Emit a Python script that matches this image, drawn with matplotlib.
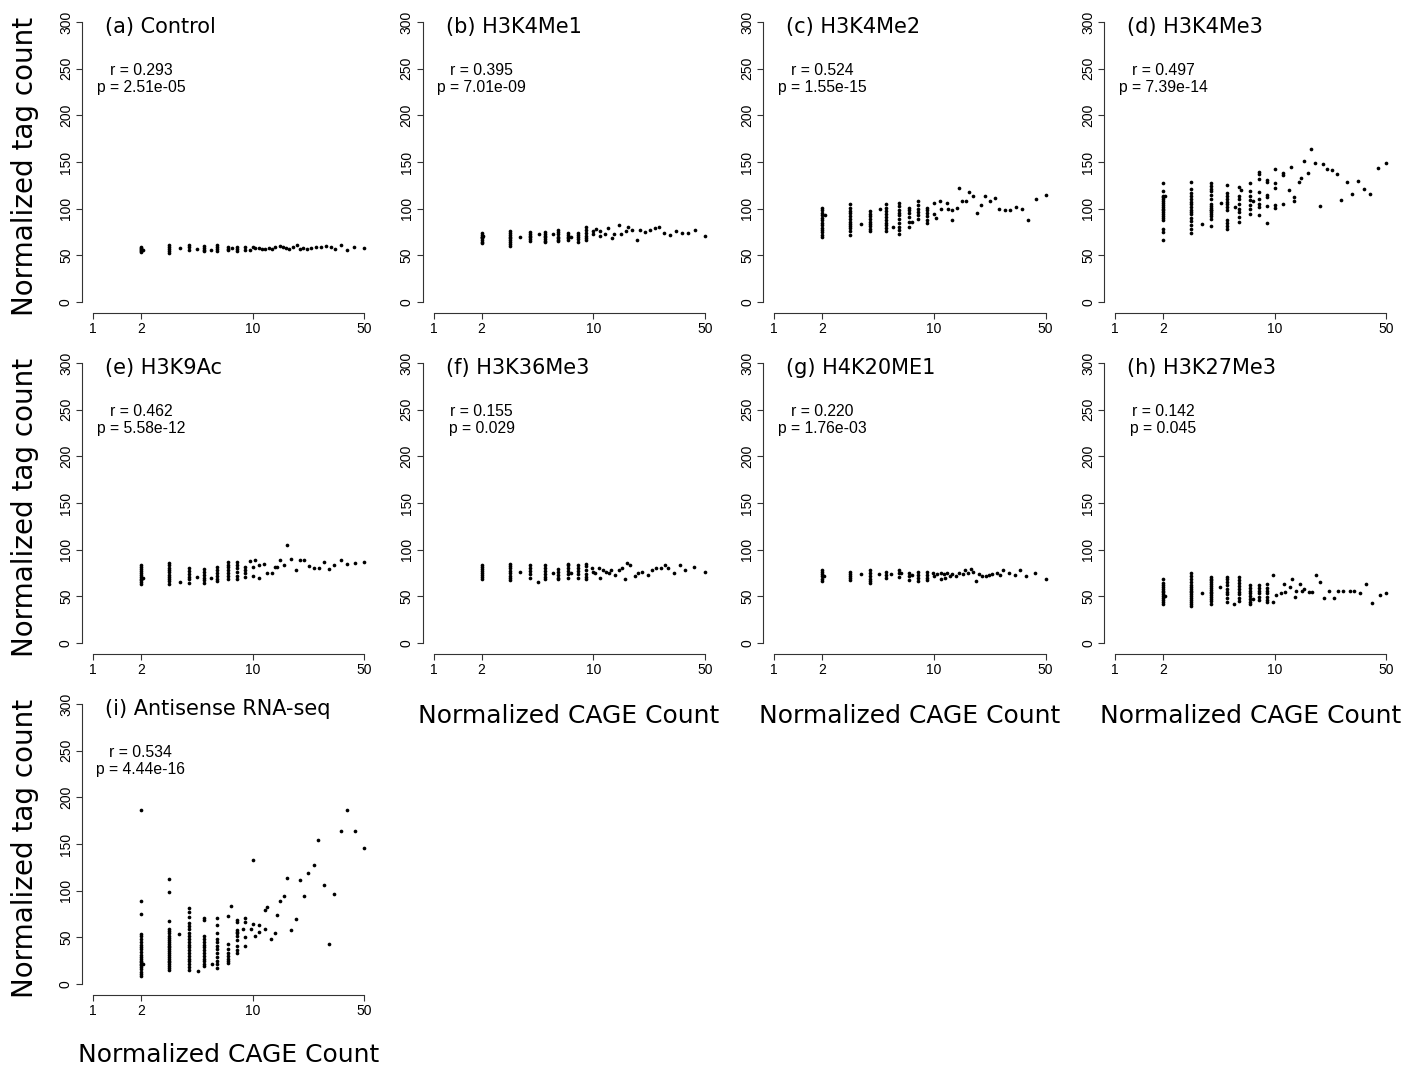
import matplotlib.pyplot as plt
import numpy as np

# ---- data ----
# each panel: vertical columns of points at small integer CAGE counts,
# plus the scattered points at larger counts

a_cols = {2: [59, 58, 57, 56, 55, 53], 3: [61, 59, 57, 55, 52], 4: [61, 59, 56],
          5: [60, 58, 56, 54], 6: [61, 59, 57, 55], 7: [59, 57, 56], 8: [59, 57, 55], 9: [59, 56]}
a_sx = [2.05, 3.5, 4.5, 5.5, 7.4, 9.6, 10, 10.4, 10.9, 11.4, 12.0, 12.6, 13.2, 13.8, 14.8, 15.5, 16.3,
        17.0, 17.9, 18.9, 19.9, 20.7, 21.9, 23.4, 25.1, 27.0, 29.0, 30.8, 32.9, 35.6, 39.2, 43.0, 50]
a_sy = [56, 58, 57, 56, 58, 56, 59, 58, 58, 57, 57, 58, 57, 59, 60, 59, 58,
        57, 59, 61, 57, 58, 57, 58, 59, 59, 60, 59, 57, 61, 56, 59, 58]

b_cols = {2: [74, 72, 70, 69, 68, 66, 64, 63], 3: [76, 74, 72, 70, 68, 66, 64, 62, 60],
          4: [75, 73, 71, 69, 67, 65], 5: [75, 73, 71, 69, 67, 65, 64], 6: [77, 75, 73, 70, 68, 66, 65],
          7: [74, 72, 70, 68, 66], 8: [74, 72, 70, 67, 64], 9: [80, 77, 74, 71, 68, 66]}
b_sx = [2.05, 3.5, 4.55, 5.57, 7.3, 10, 10, 10.4, 11.0, 11.1, 11.8, 12.3, 13.1, 13.5, 14.5, 15.0,
        16.0, 16.6, 17.6, 18.8, 19.7, 21.1, 22.8, 24.2, 25.8, 27.9, 30.2, 32.9, 35.9, 39.2, 43.6, 50]
b_sy = [71, 70, 72.5, 72.5, 69, 72.5, 76, 78, 71, 76, 72.5, 79, 68, 73, 82.5, 73,
        76, 80, 77, 66, 77, 75, 77, 79, 80, 74, 72, 76, 73.5, 73.5, 77, 71]

c_cols = {2: [101, 99, 95, 93, 90, 88, 85, 82, 79, 77, 75, 72, 69],
          3: [105, 101, 97, 95, 92, 89, 86, 84, 81, 79, 76, 72],
          4: [97, 94, 92, 89, 86, 84, 81, 78, 76],
          5: [105, 101, 97, 94, 91, 88, 85, 82, 79, 76],
          6: [106, 103, 99, 95, 93, 89, 85, 80, 77, 73],
          7: [101, 98, 95, 91, 86, 80], 8: [108, 104, 100, 96, 93, 89],
          9: [101, 99, 95, 92, 88, 85], 10: [106, 94]}
c_sx = [2.08, 3.47, 4.57, 5.57, 7.3, 10.3, 10.9, 11.0, 12.0, 12.2, 13.0, 13.0, 14.0, 14.4, 15.0, 15.9,
        16.5, 17.5, 18.5, 19.6, 20.8, 22.5, 24.0, 25.7, 27.9, 29.9, 32.6, 35.6, 38.8, 43.4, 50]
c_sy = [93, 84, 100, 80, 86, 90, 108, 100, 106, 100, 98, 88, 101, 122, 108, 108,
        118, 114, 95, 104, 114, 108, 111, 100, 99, 98, 102, 100, 88, 110, 115]

d_cols = {2: [128, 119, 114, 112, 110, 108, 106, 104, 102, 100, 98, 96, 94, 92, 90, 88, 78, 75, 66],
          3: [129, 121, 117, 114, 110, 107, 105, 102, 99, 96, 94, 90, 87, 82, 78, 74],
          4: [128, 124, 121, 119, 115, 110, 105, 103, 101, 99, 98, 96, 94, 92, 89, 81],
          5: [125, 117, 114, 110, 107, 105, 102, 98, 88, 85, 81, 78],
          6: [123, 114, 110, 105, 100, 96, 91, 86],
          7: [127, 119, 114, 109, 104, 100, 94],
          8: [139, 137, 132, 118, 110, 105, 102, 93],
          9: [131, 129, 115, 112, 103, 85], 10: [143, 127, 122, 104, 101]}
d_sx = [2.05, 3.53, 4.64, 5.62, 6.2, 7.3, 11.3, 11.3, 11.3, 12.3, 12.6, 13.3, 13.3, 14.3, 14.6, 15.3,
        16.2, 16.9, 17.9, 19.1, 20.0, 21.4, 22.9, 24.5, 26.2, 28.5, 30.6, 33.4, 36.3, 39.6, 44.5, 50]
d_sy = [113, 83, 106, 102, 120, 108, 138.6, 135.7, 104.7, 119.6, 144.3, 112.5, 108.2, 128.6, 132.9, 151.1,
        138.6, 164.3, 149.3, 102.9, 147.5, 142.1, 141, 137.1, 109.6, 129, 116.1, 130, 121.4, 115.4, 143.2, 148.9]

e_cols = {2: [83, 81, 79, 77, 75, 73, 71, 69, 67, 65, 63], 3: [86, 83, 80, 78, 76, 73, 71, 68, 66, 63],
          4: [80, 77, 74, 71, 68, 64], 5: [79, 76, 73, 70, 67, 64], 6: [81, 78, 75, 72, 69, 66],
          7: [87, 84, 81, 78, 75, 72, 69], 8: [87, 84, 80, 76, 72, 69], 9: [81, 78, 75, 71]}
e_sx = [2.05, 3.49, 4.5, 5.5, 9.7, 10, 10, 10.4, 11.0, 11.0, 11.8, 12.3, 13.2, 13.8, 14.3, 14.8,
        15.7, 16.5, 17.3, 18.8, 19.7, 21.1, 22.6, 24.2, 26.0, 27.9, 30.2, 32.6, 35.6, 38.9, 43.6, 50]
e_sy = [70, 65, 71, 70, 88, 81, 72, 89, 83, 70, 85, 75, 75, 81, 81, 89,
        83, 105, 90, 78, 89, 89, 82, 80, 80, 87, 79, 84, 89, 85, 86, 87]

f_cols = {2: [83, 81, 79, 77, 75, 73, 71, 69], 3: [85, 82, 80, 77, 75, 72, 70, 67],
          4: [83, 80, 77, 74, 70], 5: [83, 80, 77, 74, 71, 68], 6: [79, 76, 73, 70, 68],
          7: [85, 83, 80, 77, 74, 70], 8: [83, 80, 77, 74, 70], 9: [85, 82, 78, 74, 71, 68]}
f_sx = [3.48, 4.53, 5.57, 7.3, 9.8, 10, 10.3, 10.9, 11.0, 11.5, 12.0, 12.6, 13.0, 13.7, 14.4, 15.1, 15.8,
        16.3, 17.1, 18.2, 19.0, 20.1, 21.9, 23.2, 24.7, 26.4, 28.0, 29.4, 32.0, 34.7, 37.8, 42.8, 50]
f_sy = [76, 65, 75, 75, 80, 76, 75, 80, 70, 78, 76, 75, 78, 73, 78, 80, 68,
        85.5, 83, 72, 75, 76, 73, 78, 80, 80, 83, 80, 75, 83, 78, 81, 76]

g_cols = {2: [78, 76, 74, 72, 69, 66], 3: [76, 74, 72, 70, 67], 4: [78, 75, 72, 69, 66, 64],
          5: [76, 73, 70], 6: [78, 75, 71], 7: [75, 72, 67], 8: [76, 73, 70, 66], 9: [76, 73, 70, 67]}
g_sx = [2.05, 3.48, 4.53, 5.4, 6.2, 7.3, 9.8, 10, 10.5, 11, 11, 11.5, 11.8, 12.1, 12.6, 13.0, 13.7, 14.4, 15.1,
        15.6, 16.3, 17.1, 17.6, 18.4, 19.2, 20.1, 21.1, 22.2, 23.2, 24.7, 25.9, 27.2, 29.4, 32.0, 34.7, 37.8, 42.8, 50]
g_sy = [72, 74, 74, 74, 75, 73, 75, 72, 74, 75, 68, 74, 70, 75, 72, 74, 72, 75, 74,
        78, 75, 79, 76, 66, 74, 72, 72, 73, 74, 75, 73, 78, 75, 73, 78, 72, 75, 69]

h_cols = {2: [69, 64, 62, 60, 58, 56, 54, 52, 50, 48, 46, 44, 42],
          3: [75, 72, 68, 65, 62, 60, 58, 56, 54, 52, 50, 48, 46, 44, 42, 40],
          4: [71, 69, 67, 65, 63, 61, 59, 57, 55, 53, 51, 49, 47, 45, 42],
          5: [71, 68, 65, 62, 58, 55, 52, 48, 44], 6: [71, 67, 64, 61, 58, 55, 52, 48, 45],
          7: [62, 59, 56, 53, 50, 47, 44, 42], 8: [62, 59, 56, 53, 49, 46], 9: [63, 59, 56, 53, 49, 46, 44]}
h_sx = [2.05, 3.52, 4.58, 5.55, 7.3, 9.8, 9.8, 10.2, 11.0, 11.4, 11.6, 12.4, 12.8, 13.5, 13.6, 14.5, 14.9,
        15.3, 16.3, 17.2, 18.2, 19.2, 20.5, 21.8, 23.5, 25.0, 26.9, 29.5, 31.5, 34.4, 37.4, 40.8, 45.9, 50]
h_sy = [50, 53.6, 60, 42, 47.5, 72.5, 44, 51, 53, 63.6, 55, 60, 68, 49, 56, 63, 56,
        58, 55, 54, 72.5, 65, 48.6, 56, 48.6, 56, 56, 56, 56, 53.6, 63.6, 43, 51, 53]

i_cols = {2: [186, 89, 75, 53, 51, 48, 45, 42, 40, 37, 34, 31, 29, 27, 25, 23, 21, 20, 18, 16, 13, 11, 8],
          3: [112, 98, 67, 59, 57, 54, 51, 49, 47, 45, 43, 41, 39, 37, 35, 33, 31, 29, 27, 25, 23, 21, 19, 17, 15],
          4: [81, 77, 72, 65, 62, 59, 55, 51, 48, 45, 42, 39, 36, 33, 30, 27, 24, 21, 18, 15],
          5: [71, 68, 51, 48, 45, 42, 39, 36, 33, 30, 27, 24, 21, 19],
          6: [71, 63, 54, 48, 45, 41, 37, 33, 29, 25, 21, 17],
          7: [73, 43, 37, 33, 30, 27, 25, 22],
          8: [68, 66, 58, 56, 54, 51, 47, 41, 36, 33], 9: [71, 66, 50, 41]}
i_sx = [2.05, 3.48, 4.58, 5.55, 7.3, 8.7, 9.8, 10.0, 10.1, 10.3, 11.0, 11.0, 11.9, 12.0, 12.3, 13.0, 13.9, 14.3,
        14.8, 15.7, 16.5, 17.4, 18.7, 19.7, 21.0, 22.4, 24.2, 25.6, 27.9, 30.2, 32.6, 35.6, 38.9, 43.6, 50]
i_sy = [21, 53.6, 13.6, 21, 84, 59, 59, 64, 133, 51, 63, 56, 59, 79, 82, 48, 54, 74,
        89, 94, 114, 58, 70, 111, 94, 119, 127, 154, 106, 43, 96, 164, 186, 164, 146]

titles = ['(a) Control', '(b) H3K4Me1', '(c) H3K4Me2', '(d) H3K4Me3', '(e) H3K9Ac',
          '(f) H3K36Me3', '(g) H4K20ME1', '(h) H3K27Me3', '(i) Antisense RNA-seq']
r_vals = ['0.293', '0.395', '0.524', '0.497', '0.462', '0.155', '0.220', '0.142', '0.534']
p_vals = ['2.51e-05', '7.01e-09', '1.55e-15', '7.39e-14', '5.58e-12', '0.029', '1.76e-03', '0.045', '4.44e-16']

panels = [(a_cols, a_sx, a_sy), (b_cols, b_sx, b_sy), (c_cols, c_sx, c_sy), (d_cols, d_sx, d_sy),
          (e_cols, e_sx, e_sy), (f_cols, f_sx, f_sy), (g_cols, g_sx, g_sy), (h_cols, h_sx, h_sy),
          (i_cols, i_sx, i_sy)]

# ---- figure ----
W, H = 1417, 1067
fig = plt.figure(figsize=(W / 100, H / 100), dpi=100)
TICK_FONT = 'Liberation Sans'
LABEL_FONT = 'DejaVu Sans'
col_step, row_step = 340.7, 341

for k, (cols, sx, sy) in enumerate(panels):
    row, col = divmod(k, 4)
    left = 82 + col * col_step
    top = 11 + row * row_step
    ax = fig.add_axes([left / W, 1 - (top + 302) / H, 293 / W, 302 / H])

    xs = [x for x, ys in cols.items() for _ in ys] + sx
    ys = [y for ys in cols.values() for y in ys] + sy
    ax.scatter(xs, ys, s=7, c='black', linewidths=0)

    ax.set_xscale('log')
    ax.set_xlim(10 ** -0.068, 10 ** 1.767)
    ax.set_ylim(-12, 312)
    ax.set_xticks([1, 2, 10, 50])
    ax.set_xticklabels(['1', '2', '10', '50'])
    ax.xaxis.set_minor_locator(plt.NullLocator())
    ax.set_yticks([0, 50, 100, 150, 200, 250, 300])
    ax.set_yticklabels(['0', '50', '100', '150', '200', '250', '300'],
                       rotation=90, va='center')
    for side in ['top', 'right']:
        ax.spines[side].set_visible(False)
    ax.spines['left'].set_bounds(0, 300)
    ax.spines['bottom'].set_bounds(1, 50)
    for side in ['left', 'bottom']:
        ax.spines[side].set_linewidth(0.8)
        ax.spines[side].set_color('#333333')
    ax.tick_params(length=4, width=0.8, pad=2.5, labelsize=10, color='#333333')
    for lab in ax.get_xticklabels() + ax.get_yticklabels():
        lab.set_family(TICK_FONT)
    ax.patch.set_visible(False)

    ax.text(1.19, 295, titles[k], fontsize=15, family=LABEL_FONT, va='center', ha='left')
    ax.text(2, 239, 'r = %s\np = %s' % (r_vals[k], p_vals[k]), fontsize=11.3,
            family=TICK_FONT, ha='center', va='center', multialignment='center', linespacing=1.1)

# y labels, one per row
for row in range(3):
    fig.text(25 / W, 1 - (row * row_step + 166) / H, 'Normalized tag count', rotation=90,
             fontsize=20, family=LABEL_FONT, ha='center', va='center')

# x labels under the lowest panel of each column
for cx, cy in [(569, 716), (909.7, 716), (1250.4, 716), (228.5, 1055)]:
    fig.text(cx / W, 1 - cy / H, 'Normalized CAGE Count', fontsize=18,
             family=LABEL_FONT, ha='center', va='center')

fig.savefig('out.png', dpi=100)
